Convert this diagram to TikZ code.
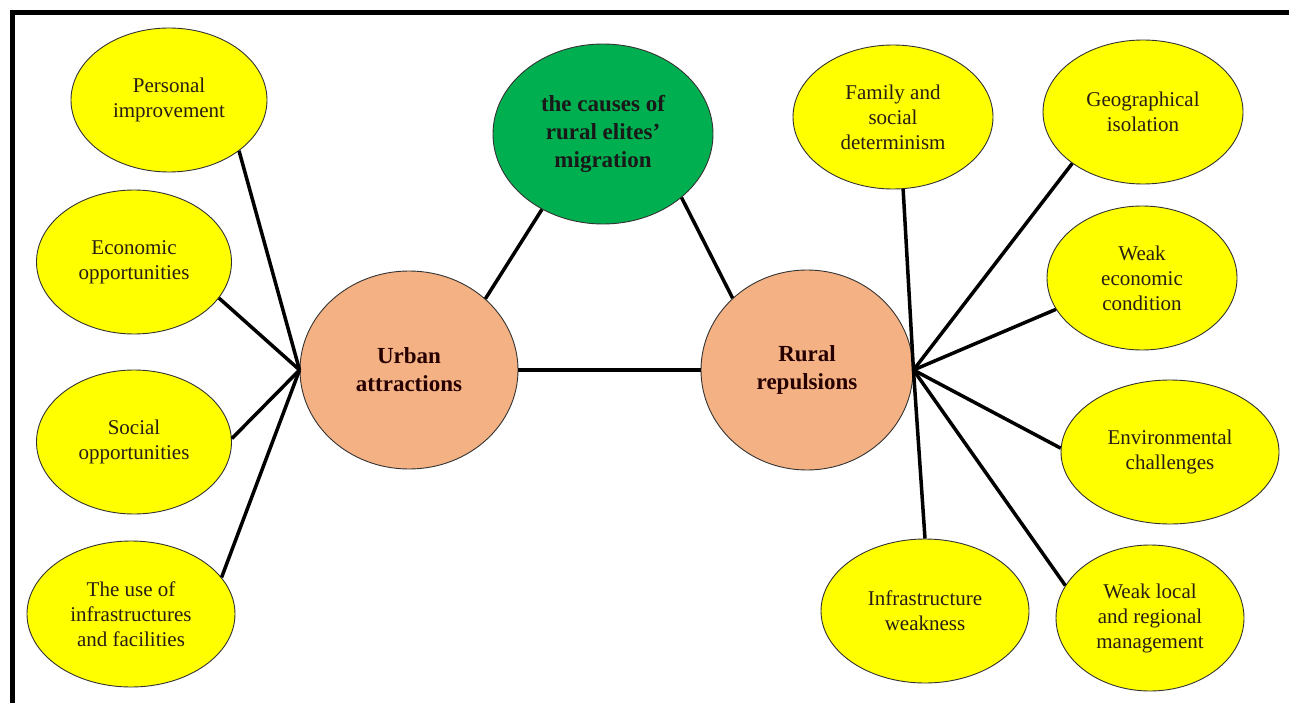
\documentclass[tikz,border=0pt]{standalone}
\usepackage{fontspec}
\setmainfont{Liberation Serif}
\usetikzlibrary{shapes.geometric}
\definecolor{yel}{RGB}{255,255,0}
\definecolor{grn}{RGB}{0,176,80}
\definecolor{sal}{RGB}{244,177,131}
\definecolor{txt}{RGB}{40,30,20}
\tikzset{
  leaf/.style={ellipse, draw=black!80, line width=0.9pt, fill=yel, inner sep=0pt, align=center,
    text=txt, font=\fontsize{21}{25}\selectfont},
  hub/.style={ellipse, draw=black!80, line width=0.9pt, fill=sal, inner sep=0pt, align=center,
    text=black!85!red, font=\fontsize{23}{28}\selectfont\bfseries},
  core/.style={ellipse, draw=black!80, line width=0.9pt, fill=grn, inner sep=0pt, align=center,
    text=black!90, font=\fontsize{23}{28}\selectfont\bfseries},
  link/.style={line width=3.5pt, black},
  frame/.style={line width=5pt, black}
}
\begin{document}
\begin{tikzpicture}[x=1pt, y=-1pt]
\useasboundingbox (0,0) rectangle (1289,703);
\draw[frame] (12.5,703) -- (12.5,12.5) -- (1289,12.5);

% left leaves
\node[leaf, minimum width=196pt, minimum height=144pt] (pi) at (169,100) {Personal\\improvement};
\node[leaf, minimum width=195pt, minimum height=144pt] (eo) at (134,262) {Economic\\opportunities};
\node[leaf, minimum width=195pt, minimum height=144pt] (so) at (134,442) {Social\\opportunities};
\node[leaf, minimum width=208pt, minimum height=146pt] (ui) at (131,614) {The use of\\infrastructures\\and facilities};

% centre
\node[core, minimum width=220pt, minimum height=180pt] (gc) at (603,134) {the causes of\\rural elites'\\migration};
\node[hub, minimum width=218pt, minimum height=198pt] (ua) at (409,370) {Urban\\attractions};
\node[hub, minimum width=212pt, minimum height=200pt] (rr) at (807,370) {Rural\\repulsions};

% right leaves
\node[leaf, minimum width=200pt, minimum height=144pt] (fs) at (893,117) {Family and\\social\\determinism};
\node[leaf, minimum width=200pt, minimum height=144pt] (gi) at (1143,112) {Geographical\\isolation};
\node[leaf, minimum width=190pt, minimum height=144pt] (we) at (1142,278) {Weak\\economic\\condition};
\node[leaf, minimum width=218pt, minimum height=144pt] (ec) at (1170,452) {Environmental\\challenges};
\node[leaf, minimum width=188pt, minimum height=146pt] (wl) at (1150,618) {Weak local\\and regional\\management};
\node[leaf, minimum width=208pt, minimum height=144pt] (iw) at (925,611) {Infrastructure\\weakness};

% connectors
\draw[link] (pi.-36) -- (ua.west);
\draw[link] (eo.-23) -- (ua.west);
\draw[link] (so.2) -- (ua.west);
\draw[link] (ui.22) -- (ua.west);
\draw[link] (ua.43) -- (gc.-129);
\draw[link] (gc.-39) -- (rr.136);
\draw[link] (ua.east) -- (rr.west);
\draw[link] (fs.-82) -- (rr.east);
\draw[link] (gi.-144) -- (rr.east);
\draw[link] (we.-160) -- (rr.east);
\draw[link] (ec.178) -- (rr.east);
\draw[link] (wl.159) -- (rr.east);
\draw[link] (iw.90) -- (rr.east);
\end{tikzpicture}
\end{document}
